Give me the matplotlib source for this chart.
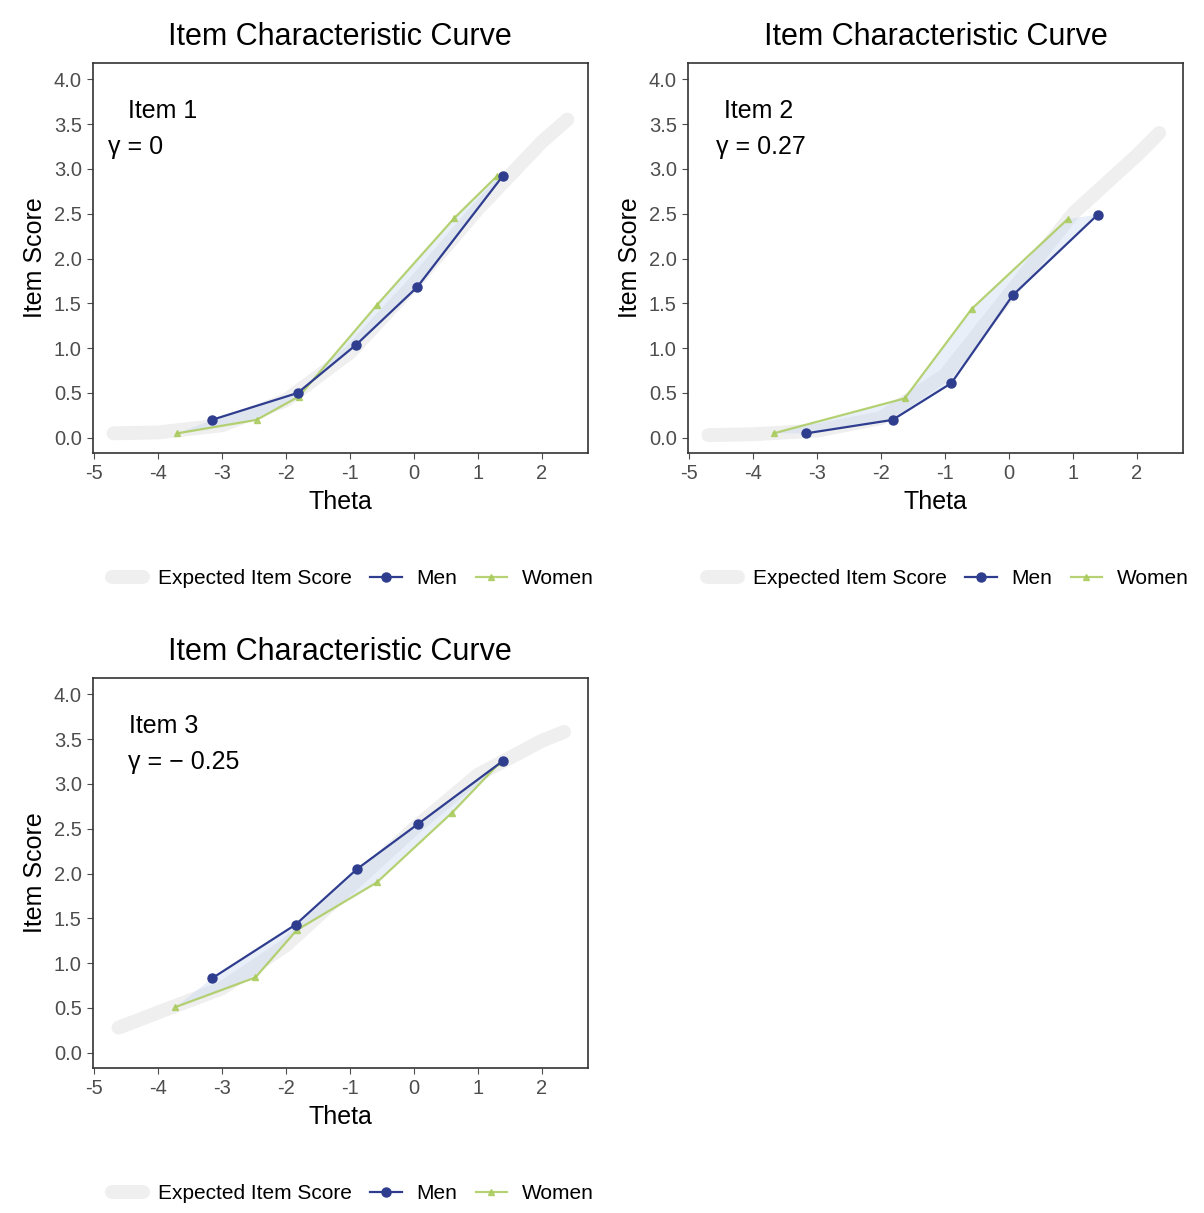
import matplotlib.pyplot as plt
import numpy as np

plt.rcParams['font.family'] = ['Liberation Sans', 'DejaVu Sans']
plt.rcParams['axes.unicode_minus'] = False

# Expected item score curves
exp_theta_1 = [-4.7, -4, -3, -2, -1, 0, 1, 2, 2.4]
exp_score_1 = [0.05, 0.06, 0.14, 0.42, 0.95, 1.72, 2.55, 3.3, 3.55]
exp_theta_2 = [-4.7, -4, -3, -2, -1, 0, 1, 2, 2.35]
exp_score_2 = [0.03, 0.04, 0.08, 0.22, 0.7, 1.6, 2.5, 3.15, 3.4]
exp_theta_3 = [-4.62, -4, -3, -2, -1, 0, 1, 2, 2.35]
exp_score_3 = [0.28, 0.45, 0.72, 1.2, 1.85, 2.5, 3.1, 3.48, 3.58]

# Men
men_theta_1 = [-3.16, -1.82, -0.9, 0.05, 1.39]
men_score_1 = [0.2, 0.5, 1.04, 1.68, 2.92]
men_theta_2 = [-3.17, -1.82, -0.9, 0.06, 1.39]
men_score_2 = [0.05, 0.2, 0.61, 1.59, 2.49]
men_theta_3 = [-3.16, -1.85, -0.89, 0.06, 1.4]
men_score_3 = [0.83, 1.43, 2.05, 2.55, 3.26]

# Women
women_theta_1 = [-3.7, -2.46, -1.8, -0.58, 0.63, 1.3]
women_score_1 = [0.05, 0.2, 0.46, 1.48, 2.45, 2.92]
women_theta_2 = [-3.68, -1.63, -0.58, 0.92]
women_score_2 = [0.05, 0.44, 1.44, 2.44]
women_theta_3 = [-3.73, -2.48, -1.83, -0.58, 0.6, 1.35]
women_score_3 = [0.51, 0.84, 1.37, 1.9, 2.68, 3.24]

item_labels = ['Item 1', 'Item 2', 'Item 3']
gamma_labels = ['γ = 0', 'γ = 0.27', 'γ = − 0.25']

x_ticks = [-5, -4, -3, -2, -1, 0, 1, 2]
y_ticks = [0.0, 0.5, 1.0, 1.5, 2.0, 2.5, 3.0, 3.5, 4.0]

men_color = '#2f3d8e'
women_color = '#a9cb5c'
exp_color = '#efefef'
fill_color = '#c9d8ef'

fig = plt.figure(figsize=(12.04, 12.13), dpi=100)
positions = [
    [0.0772, 0.6265, 0.411, 0.3215],
    [0.5714, 0.6265, 0.411, 0.3215],
    [0.0772, 0.1195, 0.411, 0.3215],
]

panels = [
    (exp_theta_1, exp_score_1, men_theta_1, men_score_1, women_theta_1, women_score_1),
    (exp_theta_2, exp_score_2, men_theta_2, men_score_2, women_theta_2, women_score_2),
    (exp_theta_3, exp_score_3, men_theta_3, men_score_3, women_theta_3, women_score_3),
]

for i, (et, es, mt, ms, wt, ws) in enumerate(panels):
    ax = fig.add_axes(positions[i])

    # shaded area between the two group curves
    poly_x = np.concatenate([mt, wt[::-1]])
    poly_y = np.concatenate([ms, ws[::-1]])
    ax.fill(poly_x, poly_y, color=fill_color, alpha=0.4, lw=0, zorder=1)

    ax.plot(et, es, color=exp_color, lw=10, solid_capstyle='round', zorder=0,
            label='Expected Item Score')
    ax.plot(wt, ws, color=women_color, lw=1.6, marker='^', markersize=5,
            alpha=0.85, zorder=2, label='Women')
    ax.plot(mt, ms, color=men_color, lw=1.6, marker='o', markersize=6.5,
            zorder=3, label='Men')

    ax.set_xlim(-5.02, 2.72)
    ax.set_ylim(-0.17, 4.18)
    ax.set_xticks(x_ticks)
    ax.set_yticks(y_ticks)
    ax.set_yticklabels([f'{v:.1f}' for v in y_ticks])
    ax.tick_params(labelsize=14.5, colors='#4d4d4d', length=4, width=0.8, pad=4)
    for s in ax.spines.values():
        s.set_color('#333333')
        s.set_linewidth(1.2)

    ax.set_title('Item Characteristic Curve', fontsize=22, pad=13)
    ax.set_xlabel('Theta', fontsize=18, labelpad=5)
    ax.set_ylabel('Item Score', fontsize=18, labelpad=5)

    item_x = -4.45 if i != 0 else -4.47
    gamma_x = [-4.78, -4.58, -4.47][i]
    ax.text(item_x, 3.64, item_labels[i], fontsize=18, ha='left', va='center')
    ax.text(gamma_x, 3.24, gamma_labels[i], fontsize=18, ha='left', va='center')

    handles, labels = ax.get_legend_handles_labels()
    order = [labels.index('Expected Item Score'), labels.index('Men'), labels.index('Women')]
    ax.legend([handles[k] for k in order], [labels[k] for k in order],
              loc='upper center', bbox_to_anchor=(0.525, -0.25), ncol=3,
              frameon=False, fontsize=15, handlelength=1.5, columnspacing=0.9,
              handletextpad=0.7)

plt.savefig('out.png', dpi=100)
